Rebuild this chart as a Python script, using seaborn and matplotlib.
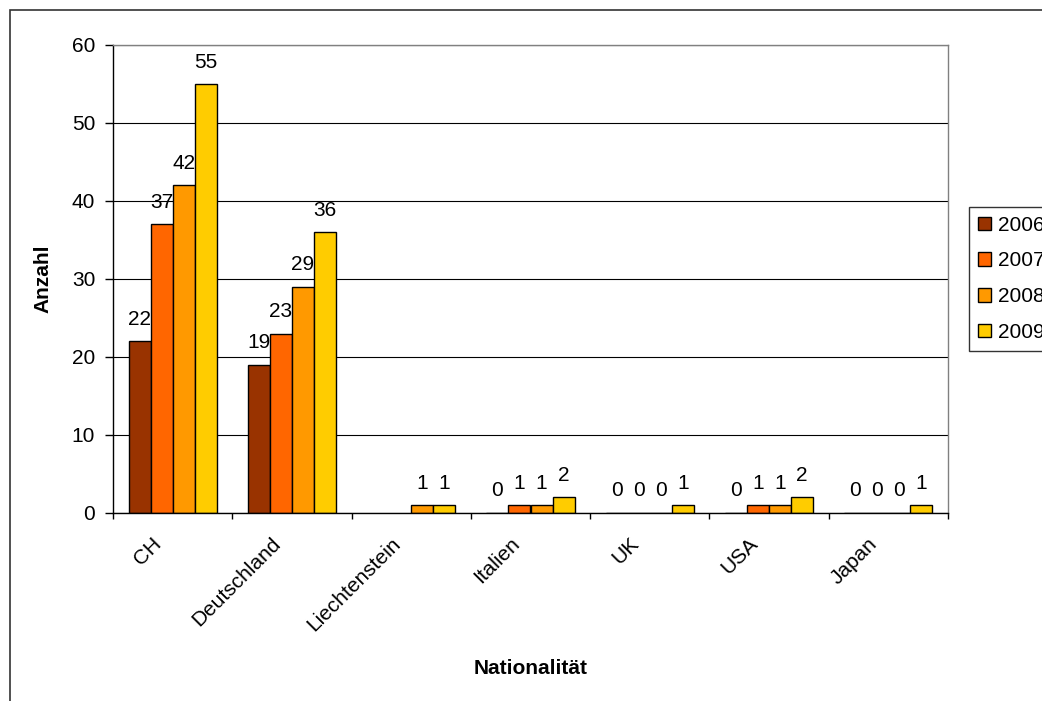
import numpy as np
import pandas as pd
import matplotlib
matplotlib.use("Agg")
import matplotlib.pyplot as plt
from matplotlib.patches import Rectangle, Patch
from matplotlib.transforms import ScaledTranslation
import seaborn as sns

categories = ["CH", "Deutschland", "Liechtenstein", "Italien", "UK", "USA", "Japan"]
years = ["2006", "2007", "2008", "2009"]
v2006 = [22, 19, np.nan, 0, 0, 0, 0]
v2007 = [37, 23, np.nan, 1, 0, 1, 0]
v2008 = [42, 29, 1, 1, 0, 1, 0]
v2009 = [55, 36, 1, 2, 1, 2, 1]
colors = ["#993300", "#FF6600", "#FF9900", "#FFCC00"]

rows = []
for yr, vals in zip(years, [v2006, v2007, v2008, v2009]):
    for c, v in zip(categories, vals):
        rows.append({"Nationalität": c, "Jahr": yr, "Anzahl": v})
df = pd.DataFrame(rows)

sns.set_style("white")
plt.rcParams["font.family"] = ["Liberation Sans", "DejaVu Sans"]
for k in ["text.color", "axes.labelcolor", "xtick.color", "ytick.color"]:
    plt.rcParams[k] = "black"
FS = 15

W, H = 1042, 701
fig = plt.figure(figsize=(W / 100, H / 100), dpi=100)
ax = fig.add_axes([113 / W, (H - 513) / H, (948 - 113) / W, (513 - 45) / H])

sns.barplot(data=df.dropna(), x="Nationalität", y="Anzahl", hue="Jahr",
            order=categories, hue_order=years, palette=colors,
            edgecolor="black", linewidth=1, width=0.74, ax=ax,
            legend=False, errorbar=None, saturation=1)

for cont in ax.containers:
    ax.bar_label(cont, fmt="%g", padding=9, fontsize=FS)

ax.set_ylim(0, 60)
ax.set_xlim(-0.5, len(categories) - 0.5)
ax.set_yticks(range(0, 61, 10))
ax.yaxis.grid(True, color="black", linewidth=0.8)
ax.set_axisbelow(True)
for s in ["left", "bottom"]:
    ax.spines[s].set_color("black")
    ax.spines[s].set_linewidth(1)
for s in ["top", "right"]:
    ax.spines[s].set_color("#808080")
    ax.spines[s].set_linewidth(1)

ax.tick_params(axis="y", direction="out", length=5.8, width=1, color="black",
               labelsize=FS, pad=7, left=True)
ax.set_xticks(range(len(categories)))
ax.set_xticklabels(categories, rotation=45, ha="right", rotation_mode="anchor",
                   va="center", fontsize=FS)
ax.tick_params(axis="x", which="major", length=0, pad=20)
offset = ScaledTranslation(-14 / 100, 0, fig.dpi_scale_trans)
for lbl in ax.get_xticklabels():
    lbl.set_transform(lbl.get_transform() + offset)
ax.set_xticks(np.arange(-0.5, len(categories), 1), minor=True)
ax.tick_params(axis="x", which="minor", direction="out", length=4.5, width=1,
               color="black", bottom=True)

ax.set_ylabel("Anzahl", fontsize=FS, fontweight="bold")
ax.yaxis.set_label_coords(-0.073, 0.5)
ax.set_xlabel("Nationalität", fontsize=FS, fontweight="bold")
ax.xaxis.set_label_coords(0.5, -0.312)

handles = [Patch(facecolor=c, edgecolor="black", linewidth=1) for c in colors]
leg = fig.legend(handles, years, loc="upper left",
                 bbox_to_anchor=(969 / W, (H - 207) / H),
                 fontsize=FS, frameon=True, fancybox=False, edgecolor="black",
                 handlelength=0.62, handleheight=0.62, handletextpad=0.35,
                 labelspacing=0.8, borderpad=0.42, borderaxespad=0)
leg.get_frame().set_linewidth(1)

fig.patches.append(Rectangle((10 / W, -0.05), 1.2, (H - 10) / H + 0.05,
                             transform=fig.transFigure, fill=False,
                             edgecolor="#333333", linewidth=1.2, clip_on=False))

fig.savefig("out.png", dpi=100)
